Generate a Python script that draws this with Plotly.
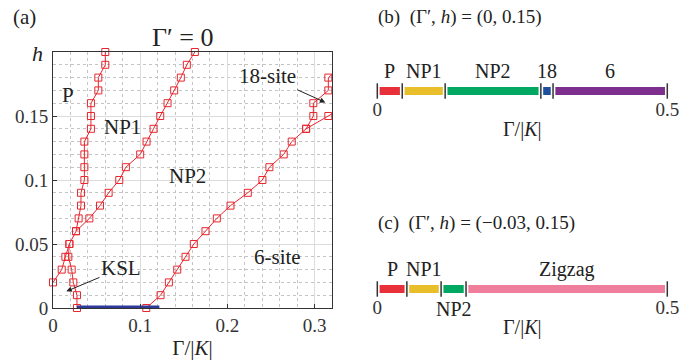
import plotly.graph_objects as go

# ---- (a) phase boundaries, Gamma' = 0 -------------------------------------
# P / KSL boundary continuing into the P / NP1 boundary
P_H = [0.02, 0.03, 0.04, 0.05, 0.06, 0.07, 0.08, 0.09, 0.10, 0.11,
       0.12, 0.13, 0.14, 0.15, 0.16, 0.17, 0.18, 0.19, 0.20]
P_G = [0.000, 0.010, 0.0142, 0.0188, 0.0264, 0.0294, 0.0321, 0.0321, 0.036, 0.036,
       0.036, 0.036, 0.0435, 0.0435, 0.0435, 0.052, 0.052, 0.060, 0.060]

# KSL / NP boundary rising from h = 0
KSL_H = [0.00, 0.01, 0.02, 0.03, 0.04, 0.05]
KSL_G = [0.0275, 0.0275, 0.0233, 0.0214, 0.0176, 0.0188]

# NP1 / NP2 boundary
NP_H = [0.06, 0.07, 0.08, 0.09, 0.10, 0.11, 0.12, 0.13, 0.14, 0.15,
        0.16, 0.17, 0.18, 0.19, 0.20]
NP_G = [0.0264, 0.0417, 0.0539, 0.0638, 0.076, 0.0836, 0.100, 0.1073, 0.1153, 0.123,
        0.1314, 0.139, 0.1466, 0.1535, 0.1627]

# NP2 / 6-site boundary, splitting around the 18-site pocket
SIX_H = [0.00, 0.01, 0.02, 0.03, 0.04, 0.05, 0.06, 0.07, 0.08, 0.09,
         0.10, 0.11, 0.12, 0.13, 0.14, 0.15, 0.16, 0.17, 0.18, 0.19]
SIX_G = [0.107, 0.1234, 0.1329, 0.1425, 0.152, 0.1615, 0.1749, 0.1879, 0.2036, 0.2234,
         0.2402, 0.2482, 0.2646, 0.2738, 0.2903, 0.2986, 0.2986, 0.3158, 0.3158, 0.333]
LOW_H = [0.14, 0.15, 0.16]
LOW_G = [0.2903, 0.3158, 0.341]

# KSL on the h = 0 axis
KSL_AXIS_G = [0.0275, 0.122]
KSL_AXIS_H = [0.0, 0.0]

REGION_TEXT = ["P", "NP1", "NP2", "6-site"]
REGION_G = [0.017, 0.0795, 0.1547, 0.2578]
REGION_H = [0.1667, 0.1414, 0.103, 0.0398]

X_TICKS = [0, 0.1, 0.2, 0.3]
Y_TICKS = [0, 0.05, 0.1, 0.15]

# ---- (b), (c) cuts at h = 0.15 ---------------------------------------------
B_BOUNDS = [0, 0.043, 0.117, 0.282, 0.303, 0.5]
B_PHASES = ["P", "NP1", "NP2", "18", "6"]
C_BOUNDS = [0, 0.051, 0.110, 0.153, 0.5]
C_PHASES = ["P", "NP1", "NP2", "Zigzag"]

PHASE_COLORS = {
    "P": "#e8303a",
    "NP1": "#e8bf2a",
    "NP2": "#00a862",
    "18": "#1d4f9e",
    "6": "#7e2f8e",
    "Zigzag": "#ef7e9c",
}

XMAX = 0.32
FONT = "Liberation Serif, Times New Roman, serif"
RED = "#e8262e"
W, H = 690, 362


def px_x(p):
    return p / W


def px_y(p):
    return (H - p) / H


fig = go.Figure()

boundaries = [(P_G, P_H), (KSL_G, KSL_H), (NP_G, NP_H), (SIX_G, SIX_H), (LOW_G, LOW_H)]
for g, h in boundaries:
    fig.add_trace(go.Scatter(
        x=g, y=h, mode="lines", line=dict(color=RED, width=1),
        showlegend=False, hoverinfo="skip",
    ))
    inside = [(a, b) for a, b in zip(g, h) if a <= XMAX]
    fig.add_trace(go.Scatter(
        x=[a for a, _ in inside], y=[b for _, b in inside], mode="markers",
        marker=dict(symbol="square-open", size=7, color=RED, line=dict(width=1)),
        cliponaxis=False, showlegend=False,
    ))

fig.add_trace(go.Scatter(
    x=KSL_AXIS_G, y=KSL_AXIS_H, mode="lines",
    line=dict(color="#2e3a9a", width=5), showlegend=False,
))

for t, g, h in zip(REGION_TEXT, REGION_G, REGION_H):
    fig.add_annotation(x=g, y=h, xref="x", yref="y", text=t, showarrow=False,
                       font=dict(size=21, family=FONT, color="#222"))

fig.add_annotation(x=0.0153, y=0.013, ax=0.078, ay=0.031, axref="x", ayref="y",
                   xref="x", yref="y", text="KSL", showarrow=True,
                   arrowhead=2, arrowsize=1.1, arrowwidth=1, arrowcolor="#222",
                   font=dict(size=21, family=FONT, color="#222"))
fig.add_annotation(x=0.3124, y=0.1606, ax=0.246, ay=0.181, axref="x", ayref="y",
                   xref="x", yref="y", text="18-site", showarrow=True,
                   arrowhead=2, arrowsize=1.1, arrowwidth=1, arrowcolor="#222",
                   font=dict(size=21, family=FONT, color="#222"))

# ---- bars for (b) and (c) ---------------------------------------------------
GAP = 0.004
for axis, bounds, phases, below in [("2", B_BOUNDS, B_PHASES, []),
                                    ("3", C_BOUNDS, C_PHASES, ["NP2"])]:
    xr, yr = "x" + axis, "y" + axis
    for i, ph in enumerate(phases):
        x0, x1 = bounds[i], bounds[i + 1]
        fig.add_trace(go.Scatter(
            x=[x0 + GAP, x1 - GAP], y=[0, 0], mode="lines",
            line=dict(color=PHASE_COLORS[ph], width=8),
            xaxis=xr, yaxis=yr, showlegend=False,
        ))
        fig.add_annotation(x=(x0 + x1) / 2, y=0, xref=xr, yref=yr, text=ph,
                           showarrow=False, yshift=-20 if ph in below else 20,
                           font=dict(size=20, family=FONT, color="#222"))
    fig.add_trace(go.Scatter(
        x=bounds, y=[0] * len(bounds), mode="markers",
        marker=dict(symbol="line-ns", size=11, line=dict(width=1.5, color="#333")),
        xaxis=xr, yaxis=yr, cliponaxis=False, showlegend=False,
    ))

axis_font = dict(size=19, family=FONT, color="#333")

fig.update_layout(
    width=W, height=H,
    margin=dict(l=0, r=0, t=0, b=0),
    paper_bgcolor="white", plot_bgcolor="white",
    font=dict(family=FONT, color="#222"),
    xaxis=dict(
        domain=[px_x(53), px_x(332)], range=[0, XMAX], automargin=False,
        tickvals=X_TICKS, ticks="inside", ticklen=4, tickcolor="#333",
        showline=True, mirror=True, linecolor="#333", linewidth=1,
        showgrid=True, gridcolor="#dcdcdc", zeroline=False,
        minor=dict(dtick=0.02, showgrid=True, gridcolor="#c4c4c4", griddash="dot"),
        tickfont=axis_font,
        title=dict(text="Γ/|<i>K</i>|", font=dict(size=21, family=FONT), standoff=5),
    ),
    yaxis=dict(
        domain=[px_y(308), px_y(52)], range=[0, 0.2], automargin=False,
        tickvals=Y_TICKS, ticks="inside", ticklen=4, tickcolor="#333",
        showline=True, mirror=True, linecolor="#333", linewidth=1,
        showgrid=True, gridcolor="#dcdcdc", zeroline=False,
        minor=dict(dtick=0.01, showgrid=True, gridcolor="#c4c4c4", griddash="dot"),
        tickfont=axis_font,
    ),
    xaxis2=dict(
        domain=[px_x(377.3), px_x(667.3)], range=[0, 0.5], anchor="y2", automargin=False,
        showline=False, showgrid=False, zeroline=False, ticks="",
        tickvals=[0, 0.5], ticktext=["0", "0.5"], tickfont=axis_font,
        title=dict(text="Γ/|<i>K</i>|", font=dict(size=20, family=FONT), standoff=2),
    ),
    yaxis2=dict(domain=[px_y(96), px_y(86)], range=[-1, 1], visible=False,
                anchor="x2", automargin=False),
    xaxis3=dict(
        domain=[px_x(377.3), px_x(667.3)], range=[0, 0.5], anchor="y3", automargin=False,
        showline=False, showgrid=False, zeroline=False, ticks="",
        tickvals=[0, 0.5], ticktext=["0", "0.5"], tickfont=axis_font,
        title=dict(text="Γ/|<i>K</i>|", font=dict(size=20, family=FONT), standoff=2),
    ),
    yaxis3=dict(domain=[px_y(294), px_y(284)], range=[-1, 1], visible=False,
                anchor="x3", automargin=False),
)

# panel titles
titles = [
    (11, 17, "(a)", "left", 21),
    (182.5, 37, "Γ′ = 0", "center", 26),
    (37, 53, "<i>h</i>", "center", 22),
    (376, 17, "(b)  (Γ′, <i>h</i>) = (0, 0.15)", "left", 19),
    (376, 223, "(c)  (Γ′, <i>h</i>) = (−0.03, 0.15)", "left", 19),
]
for x, y, text, anchor, size in titles:
    fig.add_annotation(x=px_x(x), y=px_y(y), xref="paper", yref="paper", text=text,
                       showarrow=False, xanchor=anchor, yanchor="middle",
                       font=dict(size=size, family=FONT, color="#222"))

# the page body has a default 8px margin; drop it so the figure fills the window
fig.write_html("out.html", config={"displayModeBar": False},
               post_script="document.body.style.margin='0';")
